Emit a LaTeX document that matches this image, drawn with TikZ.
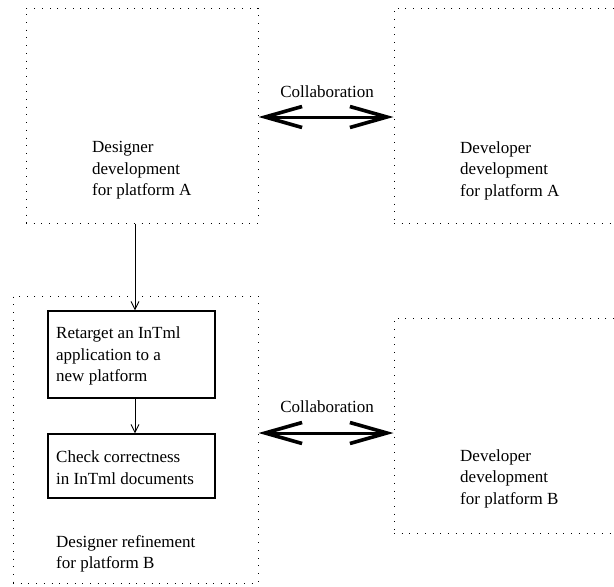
\documentclass[tikz,border=0pt]{standalone}
\usepackage{fontspec}
\setmainfont{Liberation Serif}
\usetikzlibrary{arrows.meta}
\begin{document}
\begin{tikzpicture}[x=1pt,y=-1pt,
  zone/.style={draw, line width=1pt, dash pattern=on 1pt off 6.7pt, inner sep=0pt},
  task/.style={draw, line width=1.1pt, inner sep=0pt},
  label/.style={inner sep=0pt, align=left, anchor=west,
    font=\fontsize{17}{21.5}\selectfont},
  flow/.style={line width=0.9pt, -{Straight Barb[length=8pt,width=8pt]}},
  collab/.style={line width=3pt,
    {Straight Barb[length=37pt,width=21pt,line width=3.6pt]}-{Straight Barb[length=37pt,width=21pt,line width=3.6pt]}}]

\clip (0,0) rectangle (614,587);

% outer activity areas
\node[zone, minimum width=232pt, minimum height=215pt] (A)  at (142,115.5) {};
\node[zone, minimum width=222pt, minimum height=215pt] (DA) at (505,115.5) {};
\node[zone, minimum width=245pt, minimum height=287pt] (B)  at (135.5,439.5) {};
\node[zone, minimum width=222pt, minimum height=215pt] (DB) at (505,425.5) {};

% refinement steps
\node[task, minimum width=167pt, minimum height=87pt] (R) at (131.5,354.5) {};
\node[task, minimum width=167pt, minimum height=64pt] (C) at (131.5,466) {};

% texts
\node[label] (tA)  at (92,170.5)  {Designer\\development\\for platform A};
\node[label] (tDA) at (460,170.5) {Developer\\development\\for platform A};
\node[label] (tR)  at (56,356)    {Retarget an InTml\\application to a\\new platform};
\node[label] (tC)  at (56,467.5)  {Check correctness\\in InTml documents};
\node[label] (tB)  at (56,554)    {Designer refinement\\for platform B};
\node[label] (tDB) at (460,478.5) {Developer\\development\\for platform B};
\node[label, anchor=center] (c1) at (327,92)  {Collaboration};
\node[label, anchor=center] (c2) at (327,407) {Collaboration};

% connector rows and column
\coordinate (ax) at (135,0);
\coordinate (row1) at (0,117);
\coordinate (row2) at (0,433);

\draw[flow] (A.south -| ax) -- (R.north -| ax);
\draw[flow] (R.south -| ax) -- (C.north -| ax);

\draw[collab] (A.east |- row1) -- (DA.west |- row1);
\draw[collab] (B.east |- row2) -- (DB.west |- row2);

\end{tikzpicture}
\end{document}
